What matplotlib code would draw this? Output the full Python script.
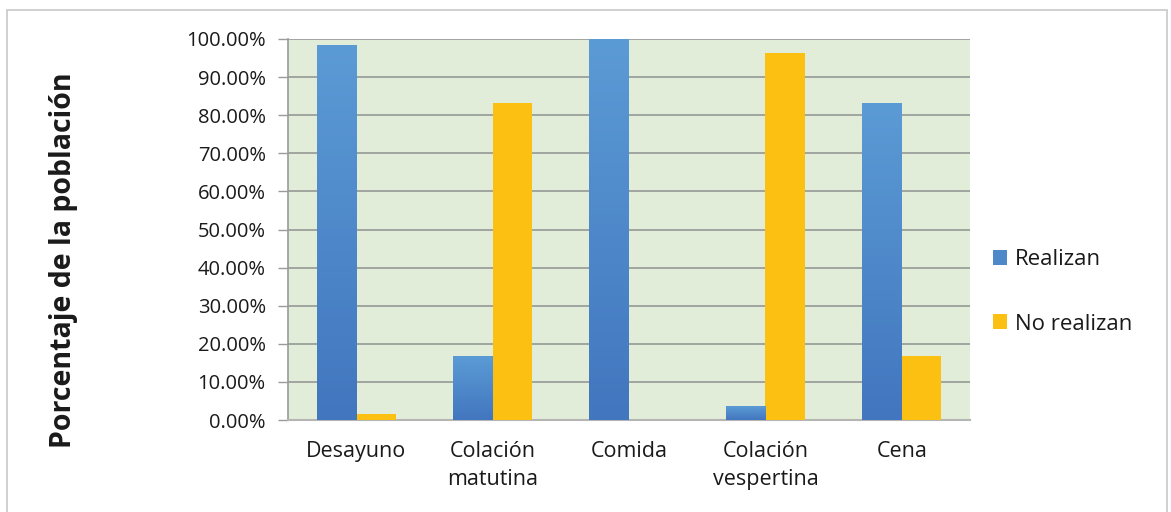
import numpy as np
import matplotlib
matplotlib.use("Agg")
import matplotlib.pyplot as plt
from matplotlib.patches import Rectangle
from matplotlib.ticker import FuncFormatter, MultipleLocator
from matplotlib.colors import LinearSegmentedColormap

plt.rcParams["font.family"] = ["Open Sans", "DejaVu Sans"]

categories = ["Desayuno", "Colación\nmatutina", "Comida", "Colación\nvespertina", "Cena"]
realizan = [98.3, 16.7, 100.0, 3.6, 83.3]
no_realizan = [1.7, 83.3, 0.0, 96.4, 16.7]
series_names = ["Realizan", "No realizan"]

W, H = 1171, 512
fig = plt.figure(figsize=(W / 100, H / 100), dpi=100)
fig.patches.append(Rectangle((7 / W, -0.01), (1167 - 7) / W, 1 - 10 / H + 0.01,
                             transform=fig.transFigure, fill=False,
                             edgecolor="#c8c8c8", lw=1.2))

ax = fig.add_axes([288 / W, 1 - 420 / H, (970 - 288) / W, (420 - 39) / H])
ax.set_facecolor("#e1edd8")

x = np.arange(len(categories))
bw = 0.29

# blue bars with vertical gradient
grad = np.linspace(0, 1, 256).reshape(-1, 1)
blue_cmap = LinearSegmentedColormap.from_list("b", ["#4276bf", "#5b9bd5"])
bars_r = ax.bar(x - bw / 2, realizan, bw, color="#4f88c9", zorder=3,
                label=series_names[0])
for b in bars_r:
    if b.get_height() <= 0:
        continue
    x0, y0 = b.get_x(), b.get_y()
    im = ax.imshow(grad, extent=[x0, x0 + b.get_width(), y0, y0 + b.get_height()],
                   origin="lower", cmap=blue_cmap, aspect="auto", zorder=3.5)
    im.set_clip_path(b)

ax.bar(x + bw / 2, no_realizan, bw, color="#fcc012", zorder=3,
       label=series_names[1])

ax.set_xlim(-0.5, len(categories) - 0.5)
ax.set_ylim(0, 100)
ax.yaxis.set_major_locator(MultipleLocator(10))
ax.yaxis.set_major_formatter(FuncFormatter(lambda v, p: f"{v:.2f}%"))
ax.grid(axis="y", color="#959a95", lw=1.2, zorder=1)
ax.set_axisbelow(True)

ax.set_xticks(x)
ax.set_xticklabels(categories, fontsize=15.5, color="#1a1a1a", linespacing=1.45)
ax.tick_params(axis="x", length=0, pad=15)
ax.tick_params(axis="y", length=7, width=1, color="#9a9a9a",
               labelsize=14.5, labelcolor="#1a1a1a", pad=9)

for s in ["top", "right"]:
    ax.spines[s].set_visible(False)
ax.spines["left"].set_color("#9a9a9a")
ax.spines["bottom"].set_color("#b5b5b5")
ax.spines["left"].set_linewidth(1.2)
ax.spines["bottom"].set_linewidth(1.5)

fig.text(64 / W, 1 - 260 / H, "Porcentaje de la población", rotation=90,
         ha="center", va="center", fontsize=20.5, fontweight="bold", color="#1a1a1a")

handles, labels = ax.get_legend_handles_labels()
leg = fig.legend(handles, labels, loc="center left",
                 bbox_to_anchor=(973 / W, 1 - 292 / H), frameon=False,
                 fontsize=16, handlelength=0.65, handleheight=0.65,
                 handletextpad=0.35, labelspacing=1.95)
for t in leg.get_texts():
    t.set_color("#1a1a1a")

fig.savefig("out.png", dpi=100, facecolor="white")
